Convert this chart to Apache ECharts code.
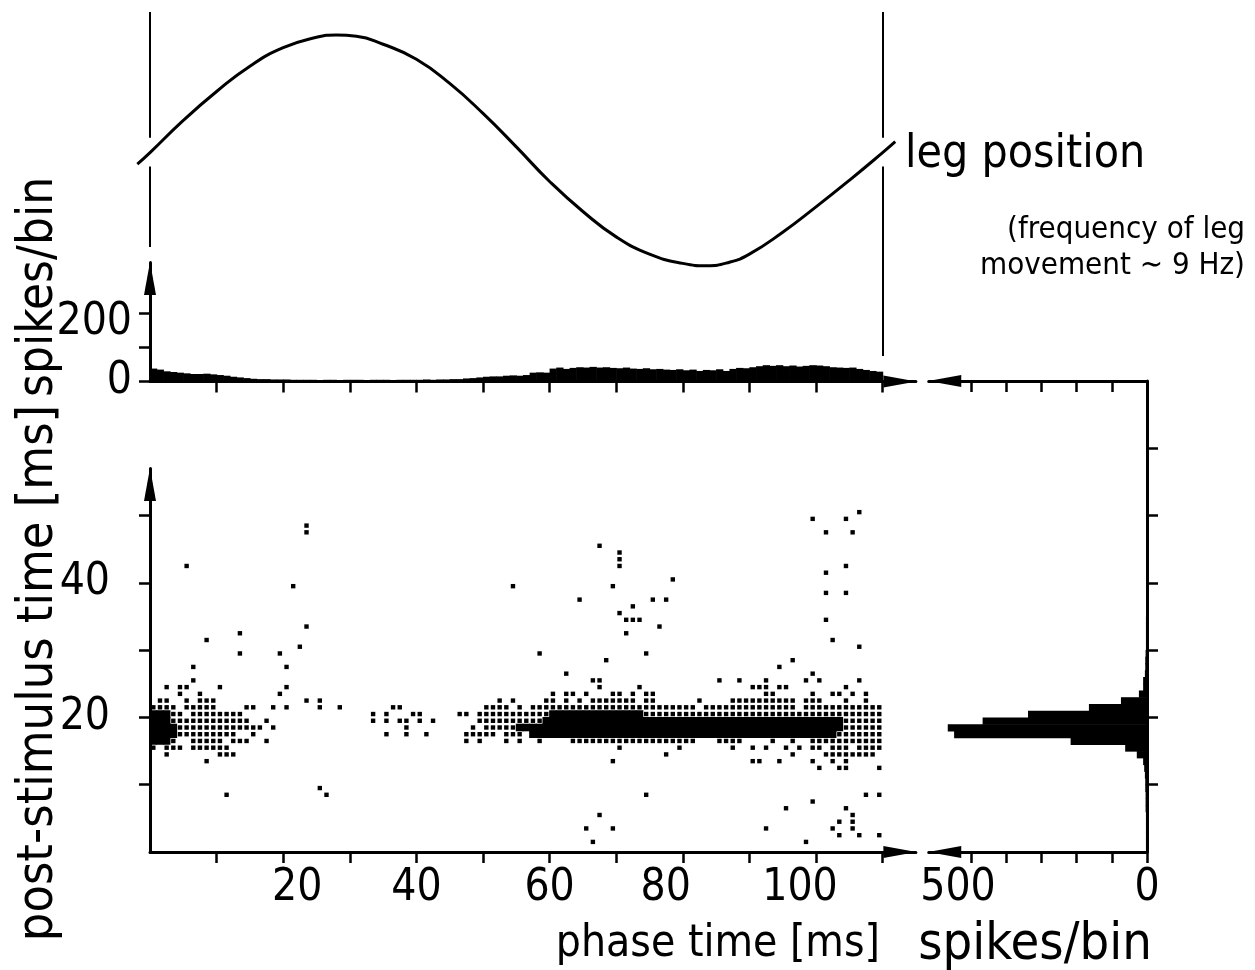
<!DOCTYPE html>
<html>
<head>
<meta charset="utf-8">
<script src="https://cdn.jsdelivr.net/npm/echarts@6/dist/echarts.min.js"></script>
<style>
  html, body { margin: 0; padding: 0; background: #fff; }
  #chart { width: 1255px; height: 970px; }
</style>
</head>
<body>
<div id="chart"></div>
<script>
// ---- values ----
const phaseTicks = [10, 20, 30, 40, 50, 60, 70, 80, 90, 100, 110];
const phaseLabels = [20, 40, 60, 80, 100];
const latencyTicks = [10, 20, 30, 40, 50];
const latencyLabels = [20, 40];
const psthTicks = [0, 100, 200];
const psthLabels = [0, 200];
const sideTicks = [0, 100, 200, 300, 400, 500];
const sideLabels = [0, 500];
const sideLatTicks = [10, 20, 30, 40, 50, 60];
const cycleMarks = [0, 110];   // one leg cycle (~9 Hz)

// leg position (normalised), phase in ms
const legPhase = [-1.9, 0, 5, 10, 15, 20, 25, 28, 31, 35, 40, 45, 50, 55, 60, 65, 70, 75, 80, 83.6,
  87, 90, 95, 100, 105, 110, 111.9];
const legPos = [-0.12, -0.02, 0.26, 0.51, 0.73, 0.89, 0.98, 1.0, 0.99, 0.92, 0.79, 0.58, 0.32, 0.03,
  -0.27, -0.53, -0.75, -0.9, -0.98, -1.0, -0.97, -0.9, -0.71, -0.49, -0.26, -0.02, 0.075];

// phase histogram, 1 ms bins from 0 to 110 ms (spikes/bin)
const psth = [
  38, 35, 30, 28, 26, 24, 22, 22, 23, 21,
  19, 17, 14, 12, 10, 8, 7, 7, 6, 6,
  6, 5, 5, 5, 5, 4, 5, 5, 4, 5,
  5, 5, 4, 5, 5, 5, 4, 5, 5, 5,
  5, 6, 5, 6, 6, 7, 7, 9, 10, 12,
  14, 15, 15, 17, 18, 17, 19, 26, 27, 26,
  38, 41, 37, 40, 42, 41, 43, 41, 42, 40,
  39, 41, 38, 37, 39, 36, 37, 35, 34, 36,
  33, 35, 31, 34, 33, 36, 31, 37, 40, 39,
  42, 45, 48, 46, 48, 45, 47, 44, 46, 48,
  47, 45, 42, 41, 40, 41, 37, 34, 31, 29
];

// post-stimulus histogram, 1 ms bins from 0 to 70 ms (spikes/bin)
const sideHist = [
  3, 3, 3, 3, 3, 3, 4, 4, 4, 5,
  5, 6, 8, 11, 29, 62, 217, 548, 566, 467,
  338, 165, 74, 23, 11, 11, 6, 5, 5, 4,
  3, 3, 3, 3, 3, 2, 2, 2, 2, 2,
  2, 2, 2, 2, 2, 2, 2, 2, 2, 2,
  1, 1, 1, 1, 1, 1, 1, 1, 1, 1,
  1, 1, 1, 1, 1, 1, 1, 1, 1, 1
];

// raster, dense band: one string per latency bin (top row = 24 ms), one char per 1 ms phase bin
// '.' none, '1' single spike, '2' several overlapping spikes
const bandTopRow = 24;
const bandRows = [
  "..1.11.... 1......... 1......... .......... .......... .......... .......1.. ...1...... .......... 111.11.... ....1.....",
  "....1..1.. .........1 .......... .......... .......... .......... 1.11.1...1 1.1.11.... .......... ..11.....1 ..11.1.1..",
  ".11..1.111 .......... ...1.1.... .......... .......... ..1.1....1 1.1.1.1111 111.11.... ..1....111 1111111.11 1...1..1..",
  "1111.11111 ....11..1. 1....1..1. ......11.. .......... 1111.1.111 1111111111 1111111111 11.1111111 1111111.11 1111111111",
  "22211.1111 1111...... .......... ...1.1...1 1.....11.1 1111111111 2222222222 2222111111 1111111111 1111111111 1111111111",
  "2221111111 11111..1.. .......... ...1.1.11. 1.1......1 1111111112 2222222222 2222222222 2222222222 2222222222 2222111111",
  "2222111111 1111111.1. .......... ........1. ........1. 1111122222 2222222222 2222222222 2222222222 2222222222 2222111111",
  "2222111111 111..1.... .......... .....1..1. .1.....111 11.111.222 2222222222 2222222222 2222222222 2222222222 2221111111",
  "2221..1111 1.111..1.. .......... .......... .......1.1 ...1.1..1. ...1111111 1111111111 11...1111. ...1..1..1 1111111111",
  "1.111.1111 11........ .......... .......... .......... .......... .......... 1........1 .......1.. 1.1..1.1.1 1.111.1111",
  "..1....... 111....... .......... .......... .......... .......... .......... .......1.. .......... ......1... .11111111.",
  "........1. .......... .......... .......... .......... .......... .........1 .......... .......... 11..1....1 ..1.1.....",
  ".......... .......... .......... .......... .......... .......... .......... .......... .......... .......... 1..11....1"
];

// raster, scattered spikes outside the band: [phase bin, latency bin]
const sparseSpikes = [
  [5, 42], [23, 48], [23, 47], [21, 39], [13, 32], [23, 33], [8, 31], [22, 30], [13, 29], [19, 29],
  [6, 27], [20, 27], [6, 25],
  [54, 39], [58, 29], [62, 26], [64, 37], [67, 45], [70, 44], [70, 43], [70, 42], [69, 39], [68, 28],
  [70, 35], [71, 34], [72, 34], [73, 34], [72, 36], [71, 32], [74, 29], [75, 37], [77, 37], [76, 33],
  [78, 40], [66, 25], [67, 25],
  [99, 49], [101, 47], [104, 49], [105, 47], [106, 50], [101, 41], [104, 42], [101, 38], [104, 38],
  [101, 34], [102, 31], [106, 30], [94, 27], [96, 28], [99, 26], [85, 25], [88, 25], [92, 25], [98, 25],
  [100, 25], [106, 25],
  [11, 8], [25, 9], [26, 8], [74, 8], [95, 6], [99, 7], [67, 5], [104, 6], [107, 8], [109, 8], [105, 5],
  [103, 4], [105, 4], [65, 3], [69, 3], [92, 3], [102, 3], [105, 3], [103, 2], [106, 2], [109, 2],
  [66, 1], [98, 1]
];

// ---- layout ----
const X0 = 150, PXMS = 6.66;          // phase axis: px of 0 ms, px per ms
const Y0 = 852, PYMS = 6.73;          // latency axis: px of 0 ms, px per ms
const PSTH_BASE = 381.5, PSPIKE = 0.34;
const SIDE0 = 1147, SPX = 0.352;
const SINE_MID = 150.35, SINE_AMP = 115.35, SINE_TOP = 12, SINE_BOTTOM = 356;
// hand-lettered tick labels sit a little off their ticks: [dx, dy] in px
const labelNudge = { 20: [14, 0], 80: [-17, 0], 100: [-16, 0], 500: [-13, 0], 200: [0, 9] };

const FONT = '"DejaVu Sans Condensed", "DejaVu Sans", sans-serif';
const NUM_SIZE = 44;
const INK = '#000';

const rasterSpikes = [];
bandRows.forEach((line, i) => {
  line.replace(/ /g, '').split('').forEach((c, col) => {
    if (c !== '.') rasterSpikes.push([col + 0.5, bandTopRow - i + 0.5, +c]);
  });
});
sparseSpikes.forEach(([col, row]) => rasterSpikes.push([col + 0.5, row + 0.5, 1]));

// arrow: 'end' = arrow at the max end, 'inv' = arrow at the max end of an inverse axis
const axisLine = (arrow) => ({
  show: true, onZero: false,
  lineStyle: { color: INK, width: 3 },
  symbol: arrow === 'end' ? ['none', 'triangle'] : arrow === 'inv' ? ['triangle', 'none'] : 'none',
  symbolSize: [12, 33],
  symbolOffset: arrow === 'inv' ? [16, 0] : [0, -16]
});
const ticks = (vals, inside) => ({
  show: true, inside: !!inside, length: 11, customValues: vals,
  lineStyle: { color: INK, width: 2.5 }
});
const rich = {};
Object.keys(labelNudge).forEach((k) => {
  const [dx, dy] = labelNudge[k];
  rich['n' + k] = {
    fontFamily: FONT, fontSize: NUM_SIZE, color: INK,
    padding: [Math.max(dy, 0) * 2, Math.max(-dx, 0) * 2, Math.max(-dy, 0) * 2, Math.max(dx, 0) * 2]
  };
});
const labels = (vals, margin) => ({
  show: !!vals, customValues: vals || [], margin: margin,
  color: INK, fontFamily: FONT, fontSize: NUM_SIZE,
  formatter: (v) => (labelNudge[v] ? '{n' + v + '|' + v + '}' : String(v)),
  rich: rich
});

function histRect(params, api, horizontal) {
  const a = api.value(0), b = api.value(1), v = api.value(2);
  if (!horizontal) {
    const p0 = api.coord([a, 0]), p1 = api.coord([b, v]);
    return { type: 'rect', shape: { x: p0[0], y: p1[1], width: p1[0] - p0[0] + 0.6, height: p0[1] - p1[1] },
      style: { fill: INK } };
  }
  const p0 = api.coord([0, a]), p1 = api.coord([v, b]);
  return { type: 'rect', shape: { x: p1[0], y: p1[1], width: p0[0] - p1[0], height: p0[1] - p1[1] + 0.6 },
    style: { fill: INK } };
}

const sineMin = -(SINE_BOTTOM - SINE_MID) / SINE_AMP;
const sineMax = (SINE_MID - SINE_TOP) / SINE_AMP;
const gapHi = 0.11, gapLo = -0.14;
const markerBottoms = [-(247 - SINE_MID) / SINE_AMP, sineMin];

const text = (str, x, y, size, align, rot) => ({
  type: 'text', x: x, y: y, rotation: rot || 0,
  style: { text: str, fill: INK, fontFamily: FONT, fontSize: size,
    textAlign: align, textVerticalAlign: 'middle', align: align, verticalAlign: 'middle' }
});

const chart = echarts.init(document.getElementById('chart'));
chart.setOption({
  animation: false,
  backgroundColor: '#fff',
  grid: [
    { left: X0 - 2 * PXMS, width: 115 * PXMS, top: SINE_TOP, height: SINE_BOTTOM - SINE_TOP },
    { left: X0, width: 115 * PXMS, top: PSTH_BASE - 350 * PSPIKE, height: 350 * PSPIKE },
    { left: X0, width: 115 * PXMS, top: Y0 - 57 * PYMS, height: 57 * PYMS },
    { left: SIDE0 - 620 * SPX, width: 620 * SPX, top: Y0 - 70 * PYMS, height: 70 * PYMS }
  ],
  xAxis: [
    { gridIndex: 0, type: 'value', min: -2, max: 113, show: false },
    { gridIndex: 1, type: 'value', min: 0, max: 115, axisLine: axisLine('end'), axisTick: ticks(phaseTicks),
      axisLabel: labels(null), splitLine: { show: false } },
    { gridIndex: 2, type: 'value', min: 0, max: 115, axisLine: axisLine('end'), axisTick: ticks(phaseTicks),
      axisLabel: labels(phaseLabels, 15), splitLine: { show: false } },
    { gridIndex: 3, type: 'value', min: 0, max: 620, inverse: true, position: 'bottom', axisLine: axisLine('inv'),
      axisTick: ticks(sideTicks), axisLabel: labels(sideLabels, 15), splitLine: { show: false } },
    { gridIndex: 3, type: 'value', min: 0, max: 620, inverse: true, position: 'top', axisLine: axisLine('inv'),
      axisTick: ticks(sideTicks.slice(1), true), axisLabel: labels(null), splitLine: { show: false } }
  ],
  yAxis: [
    { gridIndex: 0, type: 'value', min: sineMin, max: sineMax, show: false },
    { gridIndex: 1, type: 'value', min: 0, max: 350, axisLine: axisLine('end'), axisTick: ticks(psthTicks),
      axisLabel: labels(psthLabels, 18), splitLine: { show: false } },
    { gridIndex: 2, type: 'value', min: 0, max: 57, axisLine: axisLine('end'), axisTick: ticks(latencyTicks),
      axisLabel: labels(latencyLabels, 40), splitLine: { show: false } },
    { gridIndex: 3, type: 'value', min: 0, max: 70, position: 'right', axisLine: axisLine('none'),
      axisTick: ticks(sideLatTicks), axisLabel: labels(null), splitLine: { show: false } }
  ],
  series: [
    {
      type: 'line', xAxisIndex: 0, yAxisIndex: 0, clip: false, smooth: 0.5, symbol: 'none',
      data: legPhase.map((t, i) => [t, legPos[i]]),
      lineStyle: { color: INK, width: 3 },
      markLine: {
        silent: true, symbol: 'none', label: { show: false },
        lineStyle: { color: INK, width: 2, type: 'solid' },
        data: cycleMarks.flatMap((x, i) => [
          [{ coord: [x, sineMax] }, { coord: [x, gapHi] }],
          [{ coord: [x, gapLo] }, { coord: [x, markerBottoms[i]] }]
        ])
      }
    },
    {
      type: 'custom', xAxisIndex: 1, yAxisIndex: 1,
      data: psth.map((v, i) => [i, i + 1, v]),
      renderItem: (p, api) => histRect(p, api, false)
    },
    {
      type: 'scatter', xAxisIndex: 2, yAxisIndex: 2, symbol: 'rect',
      symbolSize: (v) => (v[2] > 1 ? 7.6 : 4.4),
      itemStyle: { color: INK, opacity: 1 },
      data: rasterSpikes
    },
    {
      type: 'custom', xAxisIndex: 3, yAxisIndex: 3,
      data: sideHist.map((v, k) => [k, k + 1, v]),
      renderItem: (p, api) => histRect(p, api, true)
    }
  ],
  graphic: [
    text('leg position', 905, 155, 46, 'left'),
    text('(frequency of leg', 1245, 230, 31, 'right'),
    text('movement \u223C 9 Hz)', 1245, 266, 31, 'right'),
    text('spikes/bin', 39, 287, 49, 'center', Math.PI / 2),
    text('post-stimulus time [ms]', 39, 673, 50, 'center', Math.PI / 2),
    text('phase time [ms]', 880, 945, 44, 'right'),
    text('spikes/bin', 1035, 945, 52, 'center')
  ]
});
</script>
</body>
</html>
